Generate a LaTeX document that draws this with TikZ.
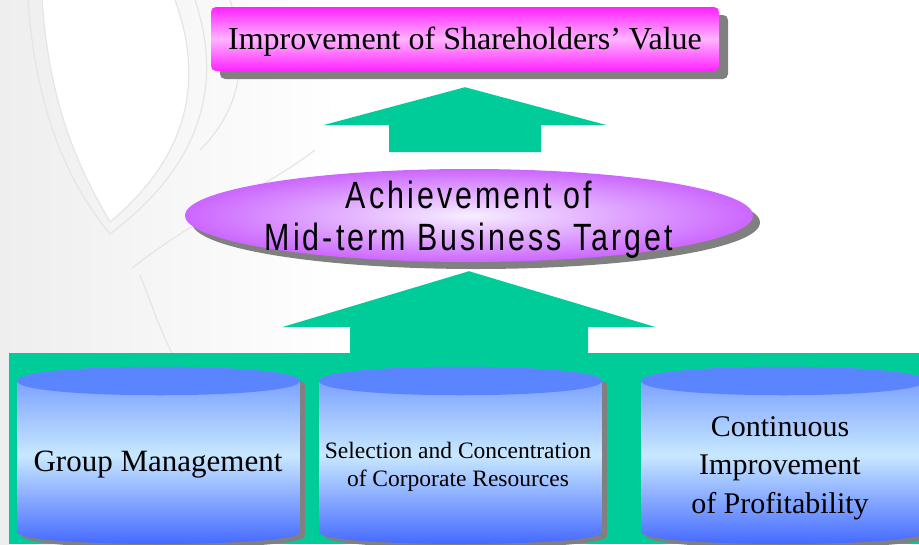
\documentclass[tikz,border=0pt]{standalone}
\usepackage{fontspec}
\setmainfont{Liberation Serif}
\newfontfamily\targetfont[FakeStretch=0.8,LetterSpace=8]{Liberation Sans}
\usetikzlibrary{shapes.geometric,shadows,calc}

\definecolor{panelgreen}{HTML}{00CC99}
\definecolor{boxpink}{HTML}{FF22FF}
\definecolor{boxlight}{HTML}{FFB4FF}
\definecolor{ellpurple}{HTML}{CC66FF}
\definecolor{elllight}{HTML}{F6EEFF}
\definecolor{lidblue}{HTML}{5B84FF}
\definecolor{cyltop}{HTML}{6890FF}
\definecolor{cylmid}{HTML}{C8E8FF}
\definecolor{cylbot}{HTML}{3F64FF}
\definecolor{shadowgray}{HTML}{808080}
\definecolor{markgray}{HTML}{EEEEEE}

\tikzset{
  valuebox/.style={rectangle, rounded corners=5pt, minimum width=508pt, minimum height=64pt,
    top color=boxpink, bottom color=boxpink, middle color=boxlight,
    drop shadow={shadow xshift=9pt, shadow yshift=-8pt, fill=shadowgray, opacity=1}},
  targetell/.style={ellipse, minimum width=568pt, minimum height=93pt, inner sep=0pt,
    inner color=elllight, outer color=ellpurple,
    drop shadow={shadow xshift=7pt, shadow yshift=-7pt, fill=shadowgray, opacity=1}},
  cyltext/.style={align=center, text=black},
  blockarrow/.style={fill=panelgreen},
  markline/.style={draw=black!10, line width=1.2pt},
}

\begin{document}
\begin{tikzpicture}[x=1pt, y=-1pt, line join=round]
  \useasboundingbox (0,0) rectangle (919,544);

  % faint watermark in the back
  \shade[left color=markgray, right color=white] (0,0) rectangle (340,544);
  \draw[markline, fill=white] (42,0) .. controls (50,110) and (80,170) .. (110,222) .. controls (160,180) and (215,110) .. (175,0);
  \draw[markline] (28,0) .. controls (36,115) and (70,185) .. (110,234) .. controls (175,185) and (232,110) .. (195,0);
  \draw[markline] (132,268) .. controls (200,215) and (270,185) .. (315,150);
  \draw[markline] (140,275) .. controls (150,300) and (160,330) .. (172,353);
  \draw[markline] (230,0) .. controls (250,60) and (240,110) .. (200,150);

  % top, middle
  \node[valuebox] (value) at (465,39) {};
  \node[font=\fontsize{32}{36}\selectfont] (valuetext) at ($(value)+(0,3)$) {Improvement of Shareholders' Value};
  \node[targetell] (target) at (469,215.5) {};
  \node[align=center, font=\fontsize{38}{42}\targetfont] (targettext) at ($(target)+(0,4)$) {Achievement of\\Mid-term Business Target};

  % block arrows
  \coordinate (foot1) at ($(value.south)+(0,81)$);
  \coordinate (foot2) at ($(target.south)+(0,93)$);
  \foreach \f/\s/\h/\l/\t in {foot1/76/142/27/65, foot2/119/187/28/84}
    \fill[blockarrow] ($(\f)+(-\s,0)$) -- ($(\f)+(-\s,-\l)$) -- ($(\f)+(-\h,-\l)$) -- ($(\f)+(0,-\t)$)
      -- ($(\f)+(\h,-\l)$) -- ($(\f)+(\s,-\l)$) -- ($(\f)+(\s,0)$) -- cycle;

  % green panel with three drums
  \fill[panelgreen] (9,353) rectangle (919,544);
  \foreach \xl/\xr in {17/300, 319/602, 641/925}{
    \fill[shadowgray, shift={(5,4)}] (\xl,381) .. controls (\xl,362) and (\xr,362) .. (\xr,381) -- (\xr,532)
      .. controls (\xr,548) and (\xl,548) .. (\xl,532) -- cycle;
    \shade[top color=cyltop, bottom color=cylbot, middle color=cylmid] (\xl,381) .. controls (\xl,362) and (\xr,362) .. (\xr,381)
      -- (\xr,532) .. controls (\xr,548) and (\xl,548) .. (\xl,532) -- cycle;
    \fill[lidblue] (\xl,381) .. controls (\xl,362) and (\xr,362) .. (\xr,381) .. controls (\xr,400) and (\xl,400) .. cycle;
  }
  \node[cyltext, font=\fontsize{31}{36}\selectfont] (group) at (158,465) {Group Management};
  \node[cyltext, font=\fontsize{23.5}{28}\selectfont] (select) at (458,467) {Selection and Concentration\\of Corporate Resources};
  \node[cyltext, font=\fontsize{30}{38.5}\selectfont] (profit) at (780,468) {Continuous\\Improvement\\of Profitability};
\end{tikzpicture}
\end{document}
